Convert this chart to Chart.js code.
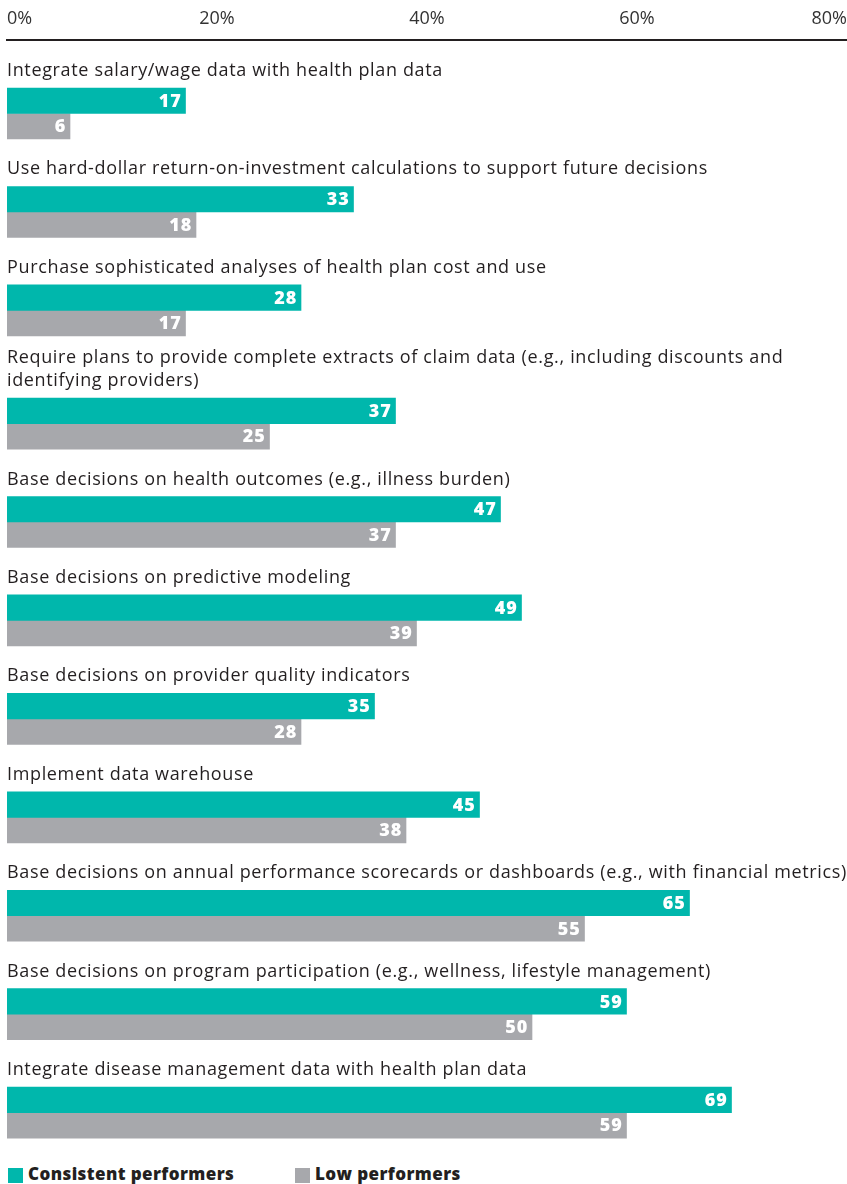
<!DOCTYPE html>
<html>
<head>
<meta charset="utf-8">
<title>Data practices: consistent vs low performers</title>
<script src="https://cdn.jsdelivr.net/npm/chart.js@4.4.1/dist/chart.umd.min.js"></script>
<style>
  html, body { margin: 0; padding: 0; background: #fff; overflow: hidden; }
  #wrap { position: relative; width: 847px; height: 1184px; }
  #legend { position: absolute; left: 8px; top: 1163px; display: flex;
            font: 800 17px "Open Sans", sans-serif; letter-spacing: 0.4px; color: #231f20; }
  #legend .item { display: flex; align-items: center; width: 287px; line-height: 22px; }
  #legend .box { width: 15px; height: 15px; margin-right: 5px; margin-top: 2px; }
</style>
</head>
<body>
<div id="wrap">
  <canvas id="chart" width="847" height="1150"></canvas>
  <div id="legend"></div>
</div>
<script>
const categories = [
  'Integrate salary/wage data with health plan data',
  'Use hard-dollar return-on-investment calculations to support future decisions',
  'Purchase sophisticated analyses of health plan cost and use',
  ['Require plans to provide complete extracts of claim data (e.g., including discounts and',
   'identifying providers)'],
  'Base decisions on health outcomes (e.g., illness burden)',
  'Base decisions on predictive modeling',
  'Base decisions on provider quality indicators',
  'Implement data warehouse',
  'Base decisions on annual performance scorecards or dashboards (e.g., with financial metrics)',
  'Base decisions on program participation (e.g., wellness, lifestyle management)',
  'Integrate disease management data with health plan data'
];
const consistent = [17, 33, 28, 37, 47, 49, 35, 45, 65, 59, 69];
const low = [6, 18, 17, 25, 37, 39, 28, 38, 55, 50, 59];
const xTicks = [0, 20, 40, 60, 80];

const FONT = '"Open Sans", sans-serif';
const TEAL = '#00b7ac';
const GREY = '#a7a8ac';
const INK = '#231f20';

// one unit per row; a wrapped label pushes its own bars (and the rest) down a little
let shift = 0;
const rowPos = categories.map((c, i) => {
  if (Array.isArray(c)) shift += 0.15 * (c.length - 1);
  return i + shift;
});

// row labels above each pair of bars, values inside the bar ends
const barText = {
  id: 'barText',
  afterDatasetsDraw(chart) {
    const { ctx, chartArea } = chart;
    ctx.save();
    ctx.font = '18px ' + FONT;
    ctx.letterSpacing = '0.65px';
    ctx.fillStyle = INK;
    ctx.textAlign = 'left';
    ctx.textBaseline = 'alphabetic';
    chart.getDatasetMeta(0).data.forEach((bar, i) => {
      const lines = [].concat(categories[i]);
      const top = bar.y - bar.height / 2;
      lines.forEach((line, j) => {
        ctx.fillText(line, chartArea.left, top - 12 - (lines.length - 1 - j) * 23);
      });
    });

    ctx.font = '800 18px ' + FONT;
    ctx.letterSpacing = '0.8px';
    ctx.fillStyle = '#fff';
    ctx.textAlign = 'right';
    ctx.textBaseline = 'middle';
    chart.data.datasets.forEach((ds, d) => {
      chart.getDatasetMeta(d).data.forEach((bar, i) => {
        ctx.fillText(ds.data[i].x, bar.x - 4, bar.y + 1);
      });
    });
    ctx.restore();
  }
};

const chart = new Chart(document.getElementById('chart'), {
  type: 'bar',
  data: {
    datasets: [{
      label: 'Consistent performers',
      data: consistent.map((v, i) => ({ x: v, y: rowPos[i] })),
      backgroundColor: TEAL
    }, {
      label: 'Low performers',
      data: low.map((v, i) => ({ x: v, y: rowPos[i] })),
      backgroundColor: GREY
    }]
  },
  options: {
    indexAxis: 'y',
    responsive: false,
    animation: false,
    devicePixelRatio: 1,
    layout: { padding: { left: 7, right: 0, top: 0, bottom: 0 } },
    datasets: {
      bar: { barThickness: 25.5, borderWidth: 0 }
    },
    plugins: {
      legend: { display: false },
      tooltip: { enabled: false }
    },
    scales: {
      x: {
        type: 'linear',
        position: 'top',
        min: 0,
        max: 80,
        afterBuildTicks: scale => { scale.ticks = xTicks.map(v => ({ value: v })); },
        afterFit: scale => { scale.height = 40; },
        grid: { display: false, drawTicks: false },
        border: { display: true, color: INK, width: 2 },
        ticks: {
          align: 'inner',
          padding: 0,
          color: '#333',
          font: { family: FONT, size: 18, lineHeight: 2.3 },
          callback: v => v + '%'
        }
      },
      y: {
        type: 'linear',
        display: false,
        offset: false,
        reverse: true,
        min: -0.747,
        max: 10.53
      }
    }
  },
  plugins: [barText]
});

// legend in html under the canvas
const legend = document.getElementById('legend');
chart.data.datasets.forEach(ds => {
  const item = document.createElement('div');
  item.className = 'item';
  const box = document.createElement('span');
  box.className = 'box';
  box.style.background = ds.backgroundColor;
  item.appendChild(box);
  item.appendChild(document.createTextNode(ds.label));
  legend.appendChild(item);
});
</script>
</body>
</html>
